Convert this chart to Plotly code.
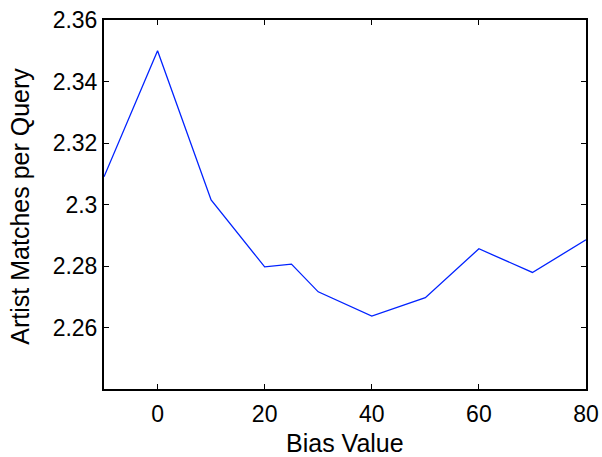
import plotly.graph_objects as go

bias = [-10, 0, 10, 20, 25, 30, 40, 50, 60, 70, 80]
matches = [2.309, 2.350, 2.3015, 2.2797, 2.2806, 2.2716, 2.2637, 2.2697, 2.2856, 2.2779, 2.2885]
x_ticks = [0, 20, 40, 60, 80]
y_ticks = [2.26, 2.28, 2.30, 2.32, 2.34, 2.36]
y_labels = ["2.26", "2.28", "2.3", "2.32", "2.34", "2.36"]
x_title = "Bias Value"
y_title = "Artist Matches per Query"

fig = go.Figure(go.Scatter(x=bias, y=matches, mode="lines",
                           line=dict(color="#0022ff", width=1.3)))

fam = "Liberation Sans, Arial, Helvetica, sans-serif"
tickfont = dict(family=fam, size=23, color="black")
titlefont = dict(family=fam, size=25, color="black")
fig.update_layout(
    width=602, height=457,
    margin=dict(l=104, r=16, t=20, b=68),
    paper_bgcolor="white", plot_bgcolor="white",
    showlegend=False,
    font=dict(family=fam, size=22, color="black"),
    annotations=[
        dict(text=x_title, xref="paper", yref="paper", x=0.5, y=-0.147,
             xanchor="center", yanchor="middle", showarrow=False, font=titlefont),
        dict(text=y_title, xref="paper", yref="paper", x=-0.175, y=0.496,
             xanchor="center", yanchor="middle", textangle=-90, showarrow=False,
             font=titlefont),
    ],
)
fig.update_xaxes(range=[-10, 80], tickvals=x_ticks, ticks="inside", ticklen=5,
                 tickcolor="black", tickwidth=1, showline=True, linecolor="black",
                 linewidth=2, mirror="ticks", showgrid=False, zeroline=False,
                 automargin=False, ticklabelstandoff=3, tickfont=tickfont)
fig.update_yaxes(range=[2.24, 2.36], tickvals=y_ticks, ticktext=y_labels, ticks="inside",
                 ticklen=5, tickcolor="black", tickwidth=1, showline=True,
                 linecolor="black", linewidth=2, mirror="ticks", showgrid=False,
                 zeroline=False, automargin=False, tickfont=tickfont)
fig.write_html("out.html", config={"displayModeBar": False},
               post_script="document.body.style.margin='0';document.body.style.overflow='hidden';")
